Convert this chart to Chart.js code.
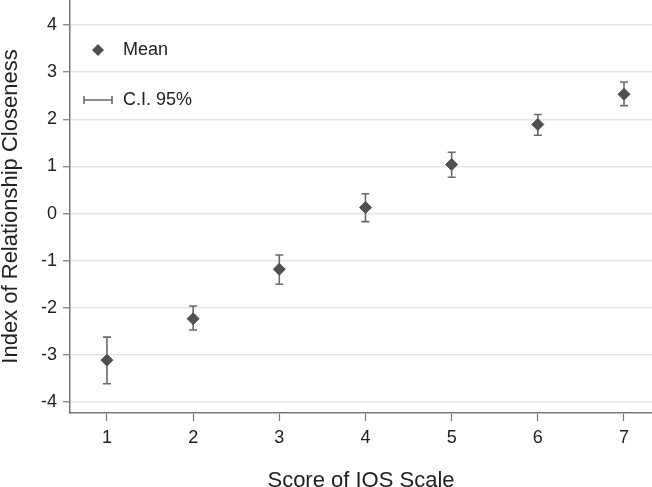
<!DOCTYPE html>
<html>
<head>
<meta charset="utf-8">
<script src="https://cdn.jsdelivr.net/npm/chart.js@4.4.0/dist/chart.umd.min.js"></script>
<style>
    html, body { margin: 0; padding: 0; background: #fff; }
    #wrap { width: 652px; height: 487px; }
</style>
</head>
<body>
<div id="wrap"><canvas id="myChart" width="652" height="487"></canvas></div>
<script>
    // данные
    const scores = [1, 2, 3, 4, 5, 6, 7];
    const means = [-3.11, -2.23, -1.18, 0.13, 1.04, 1.89, 2.53];
    const ciUpper = [-2.62, -1.96, -0.88, 0.42, 1.30, 2.10, 2.79];
    const ciLower = [-3.61, -2.47, -1.50, -0.17, 0.77, 1.66, 2.29];
    const yTicks = [-4, -3, -2, -1, 0, 1, 2, 3, 4];

    const fontFamily = '"Liberation Sans", Arial, sans-serif';
    const markerColor = '#505050';
    const barColor = '#6a6a6a';

    // доверительные интервалы рисуем до точек
    const errorBars = {
        id: 'errorBars',
        beforeDatasetsDraw(chart) {
            const ctx = chart.ctx;
            const x = chart.scales.x;
            const y = chart.scales.y;
            ctx.save();
            ctx.strokeStyle = barColor;
            ctx.lineWidth = 1.6;
            scores.forEach((s, i) => {
                const px = x.getPixelForValue(s);
                const top = y.getPixelForValue(ciUpper[i]);
                const bottom = y.getPixelForValue(ciLower[i]);
                ctx.beginPath();
                ctx.moveTo(px, top);
                ctx.lineTo(px, bottom);
                ctx.moveTo(px - 4, top);
                ctx.lineTo(px + 4, top);
                ctx.moveTo(px - 4, bottom);
                ctx.lineTo(px + 4, bottom);
                ctx.stroke();
            });
            ctx.restore();
        }
    };

    // легенда внутри области графика
    const insideLegend = {
        id: 'insideLegend',
        afterDraw(chart) {
            const ctx = chart.ctx;
            ctx.save();
            ctx.fillStyle = markerColor;
            ctx.beginPath();
            ctx.moveTo(98, 44);
            ctx.lineTo(104, 50);
            ctx.lineTo(98, 56);
            ctx.lineTo(92, 50);
            ctx.closePath();
            ctx.fill();

            ctx.strokeStyle = barColor;
            ctx.lineWidth = 1.6;
            ctx.beginPath();
            ctx.moveTo(84, 100);
            ctx.lineTo(112, 100);
            ctx.moveTo(84, 96);
            ctx.lineTo(84, 104);
            ctx.moveTo(112, 96);
            ctx.lineTo(112, 104);
            ctx.stroke();

            ctx.fillStyle = '#222';
            ctx.font = '18px ' + fontFamily;
            ctx.textBaseline = 'middle';
            ctx.fillText('Mean', 123, 50);
            ctx.fillText('C.I. 95%', 123, 100);
            ctx.restore();
        }
    };

    new Chart(document.getElementById('myChart').getContext('2d'), {
        type: 'scatter',
        data: {
            datasets: [{
                label: 'Mean',
                data: scores.map((s, i) => ({x: s, y: means[i]})),
                pointStyle: 'rectRot',
                pointRadius: 6,
                pointBackgroundColor: markerColor,
                pointBorderColor: markerColor,
                pointBorderWidth: 1
            }]
        },
        options: {
            responsive: false,
            animation: false,
            layout: {padding: 0, autoPadding: false},
            plugins: {
                legend: {display: false},
                tooltip: {enabled: false}
            },
            scales: {
                x: {
                    type: 'linear',
                    min: 0.571,
                    max: 7.325,
                    afterBuildTicks: (axis) => {
                        axis.ticks = scores.map(v => ({value: v}));
                    },
                    afterFit: (axis) => {
                        axis.height = 74;
                        axis.paddingLeft = 0;
                        axis.paddingRight = 0;
                    },
                    ticks: {
                        color: '#222',
                        font: {family: fontFamily, size: 18},
                        padding: 6
                    },
                    grid: {
                        drawOnChartArea: false,
                        drawTicks: true,
                        tickLength: 8,
                        tickColor: '#777',
                        tickWidth: 1.2
                    },
                    border: {color: '#777', width: 1.5},
                    title: {
                        display: true,
                        text: 'Score of IOS Scale',
                        color: '#222',
                        font: {family: fontFamily, size: 22, lineHeight: 1},
                        padding: {top: 0, bottom: -5}
                    }
                },
                y: {
                    type: 'linear',
                    min: -4.23,
                    max: 4.53,
                    afterBuildTicks: (axis) => {
                        axis.ticks = yTicks.map(v => ({value: v}));
                    },
                    afterFit: (axis) => {
                        axis.width = 70;
                        axis.paddingTop = 0;
                        axis.paddingBottom = 0;
                    },
                    ticks: {
                        color: '#222',
                        font: {family: fontFamily, size: 18},
                        padding: 6
                    },
                    grid: {
                        color: '#e6e6e6',
                        lineWidth: 1.5,
                        drawTicks: true,
                        tickLength: 7,
                        tickColor: '#777',
                        tickWidth: 1.2
                    },
                    border: {color: '#777', width: 1.5},
                    title: {
                        display: true,
                        text: 'Index of Relationship Closeness',
                        color: '#222',
                        font: {family: fontFamily, size: 22, lineHeight: 1},
                        padding: {top: 0, bottom: 0}
                    }
                }
            }
        },
        plugins: [errorBars, insideLegend]
    });
</script>
</body>
</html>
